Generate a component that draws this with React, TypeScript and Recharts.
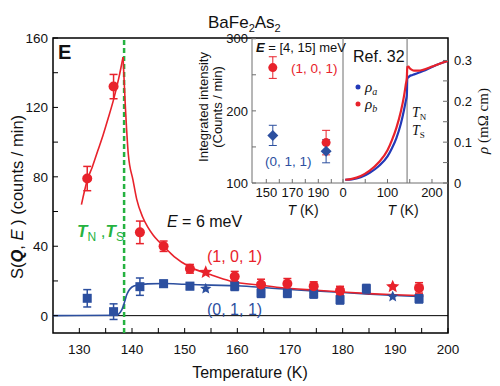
import React from 'react';
import {
  ComposedChart,
  Line,
  Scatter,
  ErrorBar,
  XAxis,
  YAxis,
  ReferenceLine,
  ReferenceArea
} from 'recharts';

const RED = '#e8222b';
const BLUE = '#2c4f9f';
const GREEN = '#25b240';
const GRAY = '#6e6e6e';
const SANS = '"Liberation Sans", Arial, Helvetica, sans-serif';
const SERIF = '"Liberation Serif", "Times New Roman", serif';

// main panel: S(Q,E) at E = 6 meV
const X_TICKS = [130, 135, 140, 145, 150, 155, 160, 165, 170, 175, 180, 185, 190, 195, 200];
const Y_TICKS = [0, 20, 40, 60, 80, 100, 120, 140, 160];

const RED_T = [131.5, 136.5, 141.5, 146, 151, 159.5, 164.5, 169.5, 174.5, 179.5, 194.5];
const RED_V = [79, 132, 48, 40, 27, 22.5, 18, 18.4, 17, 14.4, 16];
const RED_ERR = [7, 7, 6.5, 3, 2.5, 3, 3, 3, 2.5, 2.5, 3];
const RED_STAR_T = [154, 189.5];
const RED_STAR_V = [25, 16.7];

const BLUE_T = [131.5, 136.5, 141.5, 146, 151, 159.5, 164.5, 169.5, 174.5, 179.5, 184.5, 194.5];
const BLUE_V = [10, 2.3, 16.7, 18.4, 17, 17, 13, 13, 12.6, 9.2, 15.5, 9.8];
const BLUE_ERR = [5, 4.5, 5, 2, 2, 2.5, 2.5, 2.5, 2.5, 2.5, 2.5, 2.5];
const BLUE_STAR_T = [154, 189.5];
const BLUE_STAR_V = [15.5, 11];

// fit curves
const RED_FIT_LEFT_T = [130.4, 131.5, 132.5, 133.5, 134.5, 135.5, 136.5, 137.5, 138.3];
const RED_FIT_LEFT_V = [64, 78, 86, 95, 104, 114, 124.5, 137, 149];
const RED_FIT_RIGHT_T = [138.3, 138.7, 139.3, 140.2, 140.9, 142, 143, 144, 145, 146, 148, 151, 155, 158.6, 165, 168, 175, 180, 185, 190, 195.3];
const RED_FIT_RIGHT_V = [149, 123, 93, 78, 67, 57, 51, 46.5, 43, 40, 34, 28, 23.5, 20, 17.3, 16.2, 14.6, 13.6, 12.7, 12, 11.5];
const BLUE_FIT_T = [125, 137, 137.5, 138, 138.6, 139, 139.4, 140, 141, 143, 146, 150, 155, 160, 165, 168, 175, 180, 185, 190, 195.3];
const BLUE_FIT_V = [0, 0.2, 1, 3, 8, 12, 14.5, 16.5, 17.6, 18.3, 18.5, 18.1, 17.6, 17.2, 16.2, 15.5, 14.2, 13.3, 12.4, 11.6, 11];

const T_NS = 138.5;

// inset: integrated intensity E = [4, 15] meV
const INSET_T = [155, 196];
const INSET_RED = [260, 156];
const INSET_RED_ERR = [15, 17];
const INSET_BLUE = [166, 144];
const INSET_BLUE_ERR = [14, 16];
const INSET_X_TICKS = [150, 160, 170, 180, 190, 200];
const INSET_Y_TICKS = [100, 150, 200, 250, 300];

// inset: resistivity (Ref. 32)
const RHO_T = [5, 20, 40, 60, 80, 100, 110, 120, 130, 137, 141, 143.5, 144.5, 147, 150, 155, 160, 170, 180, 200, 220, 236];
const RHO_B = [0.008, 0.010, 0.017, 0.030, 0.050, 0.080, 0.105, 0.135, 0.175, 0.212, 0.240, 0.258, 0.284, 0.285, 0.281, 0.277, 0.275, 0.275, 0.277, 0.285, 0.293, 0.299];
const RHO_A = [0.008, 0.009, 0.014, 0.025, 0.041, 0.065, 0.085, 0.110, 0.145, 0.178, 0.200, 0.215, 0.256, 0.259, 0.262, 0.264, 0.266, 0.270, 0.274, 0.284, 0.293, 0.299];
const RHO_X_TICKS = [0, 50, 100, 150, 200];
const RHO_Y_TICKS = [0, 0.05, 0.1, 0.15, 0.2, 0.25, 0.3];
const RHO_TN = 144;

const pts = (t: number[], v: number[], err?: number[]) =>
  t.map((T, i) => ({ T, v: v[i], err: err ? err[i] : 0 }));

const redPts = pts(RED_T, RED_V, RED_ERR);
const bluePts = pts(BLUE_T, BLUE_V, BLUE_ERR);
const redStars = pts(RED_STAR_T, RED_STAR_V);
const blueStars = pts(BLUE_STAR_T, BLUE_STAR_V);
const redFitL = pts(RED_FIT_LEFT_T, RED_FIT_LEFT_V);
const redFitR = pts(RED_FIT_RIGHT_T, RED_FIT_RIGHT_V);
const blueFit = pts(BLUE_FIT_T, BLUE_FIT_V);
const insetRed = pts(INSET_T, INSET_RED, INSET_RED_ERR);
const insetBlue = pts(INSET_T, INSET_BLUE, INSET_BLUE_ERR);
const rhoA = pts(RHO_T, RHO_A);
const rhoB = pts(RHO_T, RHO_B);

// ticks drawn inward, labels outside
const makeTick = (
  side: 'bottom' | 'left' | 'right',
  len: number,
  show: (v: number) => boolean,
  fmt: (v: number) => string,
  fontSize: number,
  off: number,
  color: string
) => (p: any) => {
  const { x, y, payload } = p;
  const v = payload.value;
  const txt = show(v) ? fmt(v) : null;
  const tstyle = { fontFamily: SANS, fontSize, fill: '#111' };
  if (side === 'bottom') {
    return (
      <g>
        <line x1={x} y1={y} x2={x} y2={y - len} stroke={color} strokeWidth={1} />
        {txt && <text x={x} y={y + off} textAnchor="middle" style={tstyle}>{txt}</text>}
      </g>
    );
  }
  if (side === 'left') {
    return (
      <g>
        <line x1={x} y1={y} x2={x + len} y2={y} stroke={color} strokeWidth={1} />
        {txt && <text x={x - off} y={y + fontSize * 0.36} textAnchor="end" style={tstyle}>{txt}</text>}
      </g>
    );
  }
  return (
    <g>
      <line x1={x} y1={y} x2={x - len} y2={y} stroke={color} strokeWidth={1} />
      {txt && <text x={x + off} y={y + fontSize * 0.36} textAnchor="start" style={tstyle}>{txt}</text>}
    </g>
  );
};

const Dot = (color: string, r: number) => (p: any) => <circle cx={p.cx} cy={p.cy} r={r} fill={color} />;
const Square = (color: string, s: number) => (p: any) => (
  <rect x={p.cx - s / 2} y={p.cy - s / 2} width={s} height={s} fill={color} />
);
const Diamond = (color: string, r: number) => (p: any) => (
  <polygon points={`${p.cx},${p.cy - r} ${p.cx + r},${p.cy} ${p.cx},${p.cy + r} ${p.cx - r},${p.cy}`} fill={color} />
);
const Star = (color: string, r: number) => (p: any) => {
  const a: string[] = [];
  for (let i = 0; i < 10; i++) {
    const rr = i % 2 === 0 ? r : r * 0.45;
    const ang = -Math.PI / 2 + (i * Math.PI) / 5;
    a.push(`${p.cx + rr * Math.cos(ang)},${p.cy + rr * Math.sin(ang)}`);
  }
  return <polygon points={a.join(' ')} fill={color} />;
};

const layer: React.CSSProperties = { position: 'absolute', left: 0, top: 0 };

const MainChart = () => (
  <ComposedChart width={500} height={386} margin={{ top: 38, right: 52, left: 13, bottom: 23 }}>
    <XAxis
      type="number" dataKey="T" domain={[125, 200]} ticks={X_TICKS} interval={0} allowDataOverflow
      height={30} axisLine={false} tickLine={false} tickSize={0} tickMargin={0}
      tick={makeTick('bottom', 5, v => v % 10 === 0, v => String(v), 13.5, 21, '#000')}
    />
    <YAxis
      type="number" domain={[-10, 160]} ticks={Y_TICKS} interval={0} allowDataOverflow
      width={40} axisLine={false} tickLine={false} tickSize={0} tickMargin={0}
      tick={makeTick('left', 5, v => v % 40 === 0, v => String(v), 13.5, 5, '#000')}
    />
    <ReferenceArea x1={125} x2={200} y1={-10} y2={160} fill="none" stroke="#000" strokeWidth={1.5} />
    <ReferenceLine y={0} stroke="#000" strokeWidth={1} />
    <ReferenceLine x={T_NS} stroke={GREEN} strokeWidth={2.5} strokeDasharray="5 3" />
    <Line data={blueFit} dataKey="v" type="monotone" stroke={BLUE} strokeWidth={1.6} dot={false} isAnimationActive={false} />
    <Line data={redFitL} dataKey="v" type="monotone" stroke={RED} strokeWidth={1.6} dot={false} isAnimationActive={false} />
    <Line data={redFitR} dataKey="v" type="monotone" stroke={RED} strokeWidth={1.6} dot={false} isAnimationActive={false} />
    <Scatter data={bluePts} dataKey="v" shape={Square(BLUE, 9)} isAnimationActive={false}>
      <ErrorBar dataKey="err" direction="y" width={4} stroke={BLUE} strokeWidth={1.5} />
    </Scatter>
    <Scatter data={redPts} dataKey="v" shape={Dot(RED, 5)} isAnimationActive={false}>
      <ErrorBar dataKey="err" direction="y" width={4} stroke={RED} strokeWidth={1.5} />
    </Scatter>
    <Scatter data={redStars} dataKey="v" shape={Star(RED, 7)} isAnimationActive={false} />
    <Scatter data={blueStars} dataKey="v" shape={Star(BLUE, 6)} isAnimationActive={false} />
  </ComposedChart>
);

const IntensityInset = () => (
  <ComposedChart width={500} height={386} margin={{ top: 38, right: 157, left: 232, bottom: 183 }}>
    <XAxis
      type="number" dataKey="T" domain={[139, 209]} ticks={INSET_X_TICKS} interval={0} allowDataOverflow
      height={20} axisLine={{ stroke: GRAY }} tickLine={false} tickSize={0} tickMargin={0}
      tick={makeTick('bottom', 4, v => v === 150 || v === 170 || v === 190, v => String(v), 13, 14, GRAY)}
    />
    <YAxis
      type="number" domain={[100, 301]} ticks={INSET_Y_TICKS} interval={0} allowDataOverflow
      width={20} axisLine={{ stroke: GRAY }} tickLine={false} tickSize={0} tickMargin={0}
      tick={makeTick('left', 4, v => v % 100 === 0, v => String(v), 13, 4, GRAY)}
    />
    <Scatter data={insetRed} dataKey="v" shape={Dot(RED, 4.5)} isAnimationActive={false}>
      <ErrorBar dataKey="err" direction="y" width={4} stroke={RED} strokeWidth={1} />
    </Scatter>
    <Scatter data={insetBlue} dataKey="v" shape={Diamond(BLUE, 5.5)} isAnimationActive={false}>
      <ErrorBar dataKey="err" direction="y" width={4} stroke={BLUE} strokeWidth={1} />
    </Scatter>
  </ComposedChart>
);

const RhoInset = () => (
  <ComposedChart width={500} height={386} margin={{ top: 38, right: 22, left: 333, bottom: 183 }}>
    <XAxis
      type="number" dataKey="T" domain={[0, 236]} ticks={RHO_X_TICKS} interval={0} allowDataOverflow
      height={20} axisLine={{ stroke: GRAY }} tickLine={false} tickSize={0} tickMargin={0}
      tick={makeTick('bottom', 4, v => v % 100 === 0, v => String(v), 13, 14, GRAY)}
    />
    <YAxis yAxisId="sep" orientation="left" width={10} domain={[0, 1]} tick={false} tickLine={false} axisLine={{ stroke: GRAY }} />
    <YAxis
      yAxisId="rho" orientation="right" type="number" domain={[0, 0.355]} ticks={RHO_Y_TICKS} interval={0} allowDataOverflow
      width={30} axisLine={false} tickLine={false} tickSize={0} tickMargin={0}
      tick={makeTick('right', 5, v => Math.round(v * 100) % 10 === 0, v => (v === 0 ? '0' : v.toFixed(1)), 13, 6, GRAY)}
    />
    <ReferenceLine yAxisId="rho" x={RHO_TN} stroke={GRAY} strokeWidth={1} />
    <Line yAxisId="rho" data={rhoA} dataKey="v" type="monotone" stroke="#2339b8" strokeWidth={2.2} dot={false} isAnimationActive={false} />
    <Line yAxisId="rho" data={rhoB} dataKey="v" type="monotone" stroke={RED} strokeWidth={2.2} dot={false} isAnimationActive={false} />
  </ComposedChart>
);

const Annotations = () => (
  <svg width={500} height={386} style={{ ...layer, pointerEvents: 'none' }}>
    <g style={{ fontFamily: SANS }} fill="#111">
      <text x={208} y={28} fontSize={17}>
        BaFe<tspan dy={4} fontSize={11}>2</tspan><tspan dy={-4}>As</tspan><tspan dy={4} fontSize={11}>2</tspan>
      </text>
      <text x={58} y={59} fontSize={20} fontWeight="bold">E</text>
      <text transform="translate(23,197) rotate(-90)" textAnchor="middle" fontSize={16.5}>
        S(<tspan fontWeight="bold" fontStyle="italic">Q</tspan>, <tspan fontStyle="italic">E</tspan> ) (counts / min)
      </text>
      <text x={250} y={378} textAnchor="middle" fontSize={16}>Temperature (K)</text>
      <text x={167} y={227} fontSize={16}>
        <tspan fontStyle="italic">E</tspan> = 6 meV
      </text>
      <text x={77} y={237} fontSize={17} fill={GREEN}>
        <tspan fontWeight="bold" fontStyle="italic">T</tspan>
        <tspan dy={4} fontSize={12}>N</tspan>
        <tspan dy={-4}> ,</tspan>
        <tspan fontWeight="bold" fontStyle="italic">T</tspan>
        <tspan dy={4} fontSize={12}>S</tspan>
      </text>
      <text x={207} y={262} fontSize={16} fill={RED}>(1, 0, 1)</text>
      <text x={207} y={315} fontSize={16} fill={BLUE}>(0, 1, 1)</text>

      <text x={256} y={52} fontSize={13}>
        <tspan fontWeight="bold" fontStyle="italic">E</tspan> = [4, 15] meV
      </text>
      <text x={291} y={73} fontSize={13.5} fill={RED}>(1, 0, 1)</text>
      <text x={265} y={166} fontSize={13.5} fill={BLUE}>(0, 1, 1)</text>
      <text transform="translate(207.5,107) rotate(-90)" textAnchor="middle" fontSize={13}>Integrated intensity</text>
      <text transform="translate(221.5,107) rotate(-90)" textAnchor="middle" fontSize={13}>(Counts / min)</text>
      <text x={303} y={215} textAnchor="middle" fontSize={14}>
        <tspan fontStyle="italic">T</tspan> (K)
      </text>
      <text x={403} y={215} textAnchor="middle" fontSize={14}>
        <tspan fontStyle="italic">T</tspan> (K)
      </text>
      <text x={353} y={62} fontSize={16}>Ref. 32</text>
    </g>
    <circle cx={358} cy={87} r={2.5} fill="#2339b8" />
    <circle cx={358} cy={104} r={2.5} fill={RED} />
    <g style={{ fontFamily: SERIF }} fill="#111">
      <text x={365} y={92} fontSize={15} fontStyle="italic">
        ρ<tspan dy={3} fontSize={10}>a</tspan>
      </text>
      <text x={365} y={109} fontSize={15} fontStyle="italic">
        ρ<tspan dy={3} fontSize={10}>b</tspan>
      </text>
      <text x={412} y={117} fontSize={14}>
        <tspan fontStyle="italic">T</tspan><tspan dy={3} fontSize={9}>N</tspan>
      </text>
      <text x={412} y={135} fontSize={14}>
        <tspan fontStyle="italic">T</tspan><tspan dy={3} fontSize={9}>S</tspan>
      </text>
      <text transform="translate(488,121) rotate(-90)" textAnchor="middle" fontSize={15}>
        <tspan fontStyle="italic">ρ</tspan> (mΩ cm)
      </text>
    </g>
  </svg>
);

export default function App() {
  return (
    <div style={{ position: 'relative', width: 500, height: 386, background: '#fff' }}>
      <style>{'body{margin:0}'}</style>
      <div style={layer}><MainChart /></div>
      <div style={layer}><IntensityInset /></div>
      <div style={layer}><RhoInset /></div>
      <Annotations />
    </div>
  );
}
